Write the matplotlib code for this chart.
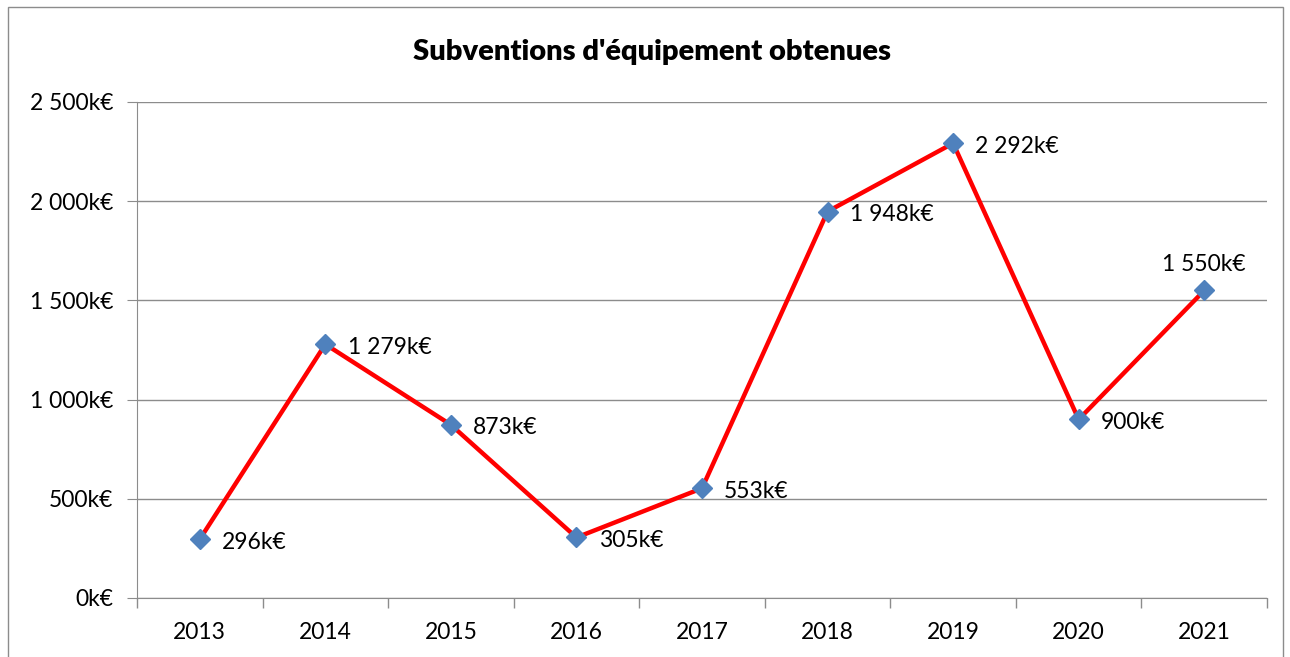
import matplotlib.pyplot as plt
from matplotlib.patches import Rectangle
from matplotlib.ticker import FuncFormatter, FixedLocator

years = ['2013', '2014', '2015', '2016', '2017', '2018', '2019', '2020', '2021']
subventions = [296, 1279, 873, 305, 553, 1948, 2292, 900, 1550]

plt.rcParams['font.family'] = ['Lato', 'DejaVu Sans']


def fmt_k(v):
    s = f"{int(round(v)):,}".replace(",", " ")
    return s + "k€"


def main():
    fig = plt.figure(figsize=(12.9, 6.57), dpi=100)
    ax = fig.add_axes([137 / 1290, 1 - 598 / 657, 1130 / 1290, 496 / 657])

    # outer frame of the chart
    fig.patches.append(Rectangle((8 / 1290, -0.01), 1275 / 1290, 1 - 7 / 657 + 0.01,
                                 transform=fig.transFigure, fill=False,
                                 edgecolor='#8c8c8c', linewidth=1))

    x = list(range(len(years)))
    ax.plot(x, subventions, color='#ff0000', linewidth=3.2, zorder=3)
    ax.plot(x, subventions, linestyle='none', marker='D', markersize=10,
            color='#4f81bd', zorder=4)

    for i, v in enumerate(subventions):
        if i == len(subventions) - 1:
            ax.annotate(fmt_k(v), (i, v), xytext=(0, 11), textcoords='offset points',
                        ha='center', va='bottom', fontsize=16.5)
        else:
            ax.annotate(fmt_k(v), (i, v), xytext=(16, -2), textcoords='offset points',
                        ha='left', va='center', fontsize=16.5)

    ax.set_xlim(-0.5, len(years) - 0.5)
    ax.set_ylim(0, 2500)
    ax.set_yticks(range(0, 2501, 500))
    ax.yaxis.set_major_formatter(FuncFormatter(lambda v, p: fmt_k(v)))
    ax.set_xticks(x)
    ax.set_xticklabels(years)
    ax.xaxis.set_minor_locator(FixedLocator([i - 0.5 for i in range(len(years) + 1)]))
    ax.tick_params(axis='x', which='major', length=0, pad=17, labelsize=16.5)
    ax.tick_params(axis='x', which='minor', length=7, color='#8c8c8c', width=1)
    ax.tick_params(axis='y', length=7, color='#8c8c8c', labelsize=16.5, pad=10)

    ax.grid(axis='y', color='#8c8c8c', linewidth=1)
    ax.set_axisbelow(True)
    for side in ['top', 'right']:
        ax.spines[side].set_visible(False)
    for side in ['left', 'bottom']:
        ax.spines[side].set_color('#8c8c8c')

    fig.text(652 / 1290, 1 - 52 / 657, "Subventions d'équipement obtenues",
             ha='center', va='center', fontsize=21, fontweight='heavy')

    fig.savefig('out.png', dpi=100)


if __name__ == '__main__':
    main()
